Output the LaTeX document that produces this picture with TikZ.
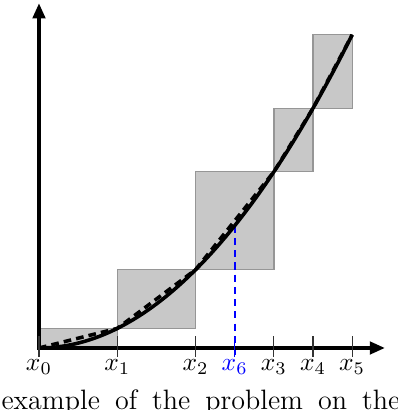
\documentclass[tikz,border=0pt]{standalone}
\usetikzlibrary{arrows.meta}
\definecolor{boxgray}{RGB}{200,200,200}
\definecolor{edgegray}{RGB}{150,150,150}
\tikzset{
  stepbox/.style={fill=boxgray,draw=edgegray,line width=0.5pt},
  axisline/.style={line width=1.6pt,{Triangle[length=6pt,width=4.8pt]}-{Triangle[length=6pt,width=4.8pt]}},
  tickline/.style={line width=0.45pt,black!80},
  xlabel/.style={anchor=base,inner sep=0pt},
  curveline/.style={line width=1.4pt},
  interp/.style={line width=1.4pt,dash pattern=on 3pt off 2pt},
  guide/.style={blue,line width=0.6pt,dash pattern=on 2.8pt off 2pt}
}
\begin{document}
\begin{tikzpicture}[x=15.35pt,y=15.35pt]
\clip (-0.996,-1.584) rectangle (9.170,8.889);
% points on the curve y = t^2/8
\coordinate (p0) at (0,0);
\coordinate (p1) at (2,0.5);
\coordinate (p2) at (4,2);
\coordinate (p3) at (6,4.5);
\coordinate (p4) at (7,6.125);
\coordinate (p5) at (8,8);
\coordinate (p6) at (5,3.125);
% boxes
\draw[stepbox] (0,0) rectangle (p1);
\draw[stepbox] (2,0.5) rectangle (p2);
\draw[stepbox] (4,2) rectangle (p3);
\draw[stepbox] (6,4.5) rectangle (p4);
\draw[stepbox] (7,6.125) rectangle (p5);
% blue guide
\coordinate (g6) at (5,-0.2);
\draw[guide] (p6) -- (g6);
% curves
\draw[interp] (p0) -- (p1) -- (p2) -- (p3) -- (p4) -- (p5);
\draw[curveline] plot[domain=0:8,samples=80,smooth] (\x,{\x*\x/8});
% axes
\coordinate (ytip) at (0,8.81);
\coordinate (xtip) at (8.84,0);
\draw[axisline] (ytip) -- (p0) -- (xtip);
% ticks and labels
\foreach \t/\n in {0/0,2/1,4/2,6/3,7/4,8/5}{
  \draw[tickline] (\t,0.3) -- (\t,-0.22);
  \node[xlabel] (lab\n) at (\t,-0.587) {$x_{\n}$};
}
\draw[tickline,blue] (5,0.3) -- (5,-0.22);
\node[xlabel,text=blue] (lab6) at (5,-0.587) {$x_{6}$};
% caption (cut off)
\node[anchor=base west,inner sep=0pt] (cap) at (-0.97,-1.56)
  {\fontsize{11}{13}\selectfont\makebox[156.4pt][s]{example of the problem on the}};
\end{tikzpicture}
\end{document}
